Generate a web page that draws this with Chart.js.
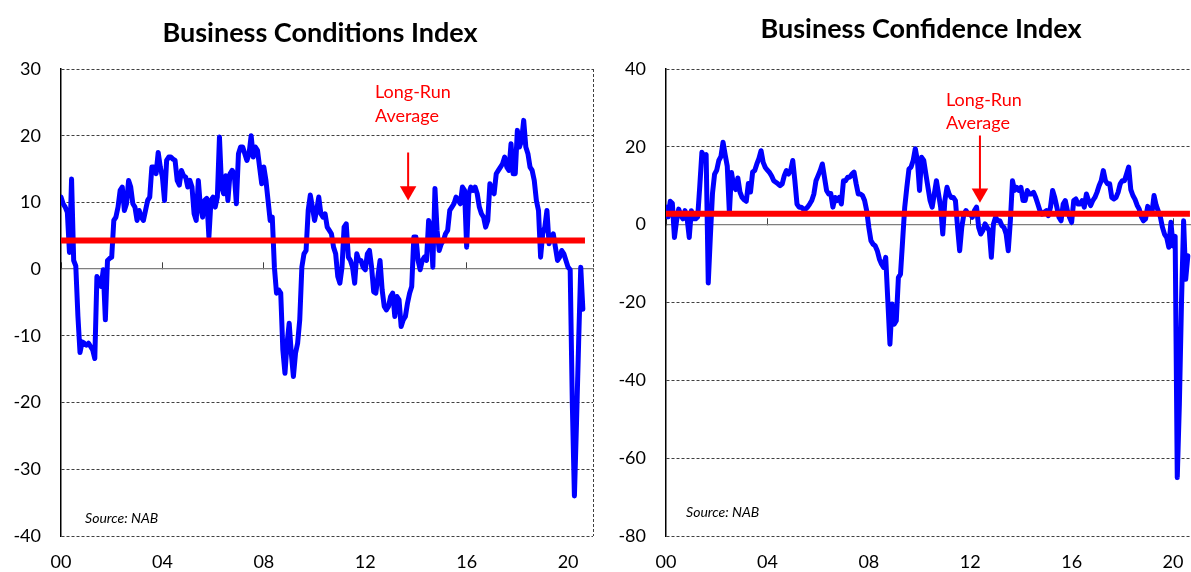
<!DOCTYPE html>
<html>
<head>
<meta charset="utf-8">
<script src="https://cdn.jsdelivr.net/npm/chart.js@4.4.1/dist/chart.umd.min.js"></script>
<style>
  html, body { margin:0; padding:0; background:#ffffff; overflow:hidden; width:1191px; height:572px; }
  canvas { position:absolute; top:0; }
  #cond { left:0; }
  #conf { left:600px; }
</style>
</head>
<body>
<canvas id="cond" width="640" height="572"></canvas>
<canvas id="conf" width="642" height="572"></canvas>
<script>
// ---------- data (monthly, index 0 = Jan 2000) ----------
const xTickMonths = [0, 48, 96, 144, 192, 240];
const xTickLabels = ['00', '04', '08', '12', '16', '20'];
const conditionsTicks = [30, 20, 10, 0, -10, -20, -30, -40];
const confidenceTicks = [40, 20, 0, -20, -40, -60, -80];

const conditionsValues = [
  10.8,9.8,9.3,8.5,2.5,13.5,1.3,0.5,-7,-12.5,
  -10.9,-11.1,-11.4,-11.1,-11.6,-12.1,-13.4,-1.1,-1.6,-2.6,
  -0.1,-7.6,1.3,1.6,1.8,7.3,7.8,9.3,11.8,12.3,
  8.8,9.8,13.3,12.3,9.8,9.3,7.3,8.8,7.8,7.3,
  8.8,10.3,10.8,15.3,15.3,14.3,17.5,15.3,13.8,10.3,
  16.3,16.8,16.8,16.5,16.3,13.3,12.6,14.8,14,13.8,
  12.3,13.3,12.3,8.3,7.3,13.3,9.3,7.8,10.3,10.6,
  4.8,10.3,10.8,9.3,10.8,19.8,12.3,11.3,14,10.3,
  14.3,14.8,14.3,9.8,17.3,18.3,18.3,17.3,16.3,17.3,
  20,16.8,18.3,17.8,15.3,12.8,15.3,13.3,10.3,7.3,
  7.8,0.3,-3.6,-3.1,-3.6,-12.1,-15.6,-11.1,-8.1,-12.6,
  -16.1,-12.6,-11.1,-7.6,0.3,2.3,2.8,8.8,11.1,9.3,
  7.3,8.8,10.8,8.3,7.8,8.3,6.3,5.8,5.3,3.3,
  2.3,-1.1,-2.1,0.3,6.3,6.8,1.8,1.3,0.3,-2.1,
  2.3,1.3,1.3,0.3,-0.1,2.3,2.8,0.3,-3.4,-3.6,
  -1.1,1.3,-3.1,-5.6,-6.1,-5.6,-4.1,-3.6,-7.1,-4.1,
  -4.6,-8.6,-7.6,-7.1,-5.1,-3.6,-2.6,4.8,4.8,1.3,
  -0.1,1.3,1.8,1.3,7.3,6.3,0.3,12.1,5.8,2.8,
  3.8,4.3,5.3,5.8,8.8,9.3,9.8,10.8,10.3,9.8,
  12.3,11.8,3.3,11.3,12.3,11.8,12.3,11.3,9.3,8.3,
  7.8,6.3,7.3,12.8,11.8,11.3,14.3,14.8,15.3,15.8,
  16.8,15.3,14.8,18.8,14.3,14.3,20.8,18.3,19.3,22.3,
  18.3,17.3,15.3,14.8,13.3,10.3,8.8,1.8,5.3,6.3,
  8.8,3.8,4.8,5.3,3.3,1.3,1.8,2.8,2.3,1.3,
  0.3,-0.1,-20,-34,-23,-11,0.3,-6
];

const confidenceValues = [
  4.5,2,6,5.5,-3.3,1,4,2.5,1.5,3.6,
  1.5,-3.3,3.6,1.5,1.5,2,10,18.6,17.5,18,
  -15,-3,8,13,14,16.5,17.5,21.2,18,15,
  3,13.4,10,9,12,8.4,7,6.4,6,10.6,
  8.4,13.5,13.9,15.6,17,19,16,14.7,14,13.4,
  12.5,11.3,10.9,10.5,10,10.5,12.6,13.9,13,13.9,
  16.5,11.3,5.3,4.5,4.5,4,4,4.5,5.3,6.2,
  7.9,11.3,12.6,13.9,15.6,12.2,8.8,7.9,8,4.5,
  7,6.2,7,5.3,11.3,11.3,12.2,12.2,13,13.5,
  10.5,7.9,7.9,7.5,6.2,3.6,-0.7,-4.1,-5,-5.4,
  -6.7,-8.8,-10.1,-11,-8.4,-19.6,-30.7,-20.4,-25.6,-24.7,
  -13.6,-12.7,-4.1,4.5,9.6,14.3,14.8,16.5,19.5,16.5,
  8.8,17.3,16.5,13,9.6,6.2,4.5,7.9,11.3,7.9,
  4.5,-2.4,6.2,9.6,7.9,7,7,6.2,-0.7,-6.7,
  -0.7,2.7,3.6,2.7,2.7,1.9,3.6,4.5,-0.7,-2.4,
  -1.5,0.2,-0.7,-1.5,-8.4,0.2,1.9,1,1,-0.3,
  -0.7,-2.4,-6.7,1,11.3,8.8,9.6,8.8,9.6,6.2,
  6.2,8.8,7.9,7.9,8.3,7,5.3,3.6,2.7,3.2,
  3.6,2.3,4.5,8.8,7,4.5,1.9,1,5.3,6.2,
  3.6,1.9,0.6,6.2,6.6,5.3,5.3,6.2,4.5,7.9,
  6.2,4.9,6.2,7,8.3,10,11.3,13.9,11.3,10.5,
  10.5,7,6.6,7,8.3,10.5,11.3,11.3,13,14.8,
  9,7.5,6.5,5,4,2,1,1.5,4.7,3.5,
  3,7.5,5,3.5,2,-0.7,-2.5,-3.3,-5.8,0.6,
  -5.5,-3,-65,-46,-20,1,-14,-8
];

const conditionsLongRun = 4.3;
const confidenceLongRun = 2.8;
const longRunEndMonth = 248;

// annotation anchors (data coordinates: month index, index value)
const conditionsArrow = { x: 164.3, top: 17.5, head: 11.7 };
const confidenceArrow = { x: 148.6, top: 22.9, head: 8.1 };
const conditionsNotes = [
  { text: 'Long-Run', x: 148.6, y: 25.6, kind: 'red' },
  { text: 'Average', x: 148.6, y: 22.0, kind: 'red' },
  { text: 'Source: NAB', x: 11.4, y: -38.1, kind: 'src' }
];
const confidenceNotes = [
  { text: 'Long-Run', x: 132.5, y: 30.6, kind: 'red' },
  { text: 'Average', x: 132.5, y: 24.5, kind: 'red' },
  { text: 'Source: NAB', x: 9.5, y: -75.1, kind: 'src' }
];

// ---------- rendering ----------
const FONT = 'Lato, "Open Sans", sans-serif';
Chart.defaults.font.family = FONT;
Chart.defaults.color = '#000000';

function monthPoints(values) { return values.map((v, i) => ({ x: i, y: v })); }

function notesPlugin(items) {
  return {
    id: 'notes',
    afterDatasetsDraw(chart) {
      const ctx = chart.ctx, xs = chart.scales.x, ys = chart.scales.y;
      items.forEach(t => {
        ctx.save();
        ctx.font = t.kind === 'red' ? '18px ' + FONT : 'italic 14px ' + FONT;
        ctx.fillStyle = t.kind === 'red' ? '#FF0000' : '#000000';
        ctx.textAlign = 'left';
        ctx.textBaseline = 'alphabetic';
        ctx.fillText(t.text, xs.getPixelForValue(t.x), ys.getPixelForValue(t.y));
        ctx.restore();
      });
    }
  };
}

function buildChart(id, o) {
  const gridColor = '#404040';
  const config = {
    type: 'line',
    data: {
      datasets: [
        { data: monthPoints(o.values), borderColor: '#0000FF', borderWidth: 5, pointRadius: 0,
          tension: 0, borderJoinStyle: 'round', borderCapStyle: 'round', order: 3 },
        { data: [{ x: 0, y: o.longRun }, { x: longRunEndMonth, y: o.longRun }], borderColor: '#FF0000',
          borderWidth: 6, pointRadius: 0, borderCapStyle: 'butt', order: 2 },
        { data: [{ x: o.arrow.x, y: o.arrow.top }, { x: o.arrow.x, y: o.arrow.head }], borderColor: '#FF0000',
          borderWidth: 2, pointRadius: [0, 9.5], pointStyle: 'triangle', rotation: 180,
          pointBackgroundColor: '#FF0000', pointBorderColor: '#FF0000', pointBorderWidth: 0, order: 1 }
      ]
    },
    options: {
      responsive: false,
      animation: false,
      events: [],
      layout: { autoPadding: false, padding: { left: 0, right: 0, top: 0, bottom: 0 } },
      plugins: {
        legend: { display: false },
        tooltip: { enabled: false },
        title: {
          display: true, text: o.title, color: '#000000',
          font: { family: FONT, size: 27, weight: 'bold', lineHeight: 1.2 },
          padding: { top: o.titleTop, bottom: 69 - o.titleTop - 32.4 }
        }
      },
      scales: {
        x: {
          type: 'linear', axis: 'x', min: 0, max: o.xMax, position: { y: 0 },
          afterBuildTicks: s => { s.ticks = xTickMonths.map(v => ({ value: v })); },
          ticks: { display: false },
          grid: { display: true, drawOnChartArea: false, drawTicks: true, tickLength: -7,
                  tickColor: '#404040', tickWidth: 1 },
          border: { display: true, color: '#7f7f7f', width: 1.3 }
        },
        x2: {
          type: 'linear', axis: 'x', min: 0, max: o.xMax, position: 'bottom',
          afterBuildTicks: s => { s.ticks = xTickMonths.concat([o.xMax]).map(v => ({ value: v })); },
          ticks: { font: { family: FONT, size: 18 }, color: '#000000', padding: 15, maxRotation: 0,
                   autoSkip: false, callback: (v, i) => (i < xTickLabels.length ? xTickLabels[i] : '') },
          grid: { display: true, drawTicks: false, drawOnChartArea: true, lineWidth: 1,
                  color: c => (c.tick && c.tick.value === o.xMax ? gridColor : 'rgba(0,0,0,0)') },
          border: { display: false, dash: [3, 2] }
        },
        y: {
          type: 'linear', position: 'left', min: o.yTicks[o.yTicks.length - 1], max: o.yTicks[0],
          afterBuildTicks: s => { s.ticks = o.yTicks.slice().reverse().map(v => ({ value: v })); },
          afterFit: s => { s.width = o.yWidth; },
          ticks: { font: { family: FONT, size: 18 }, color: '#000000', padding: 20, callback: v => String(v) },
          grid: { display: true, drawTicks: false, lineWidth: 1,
                  color: c => (c.tick && c.tick.value === 0 ? 'rgba(0,0,0,0)' : gridColor) },
          border: { display: true, color: '#000000', width: 1.5, dash: [3, 2] }
        },
        // empty right-hand spacer so the full-width title centres like the reference
        yR: {
          type: 'linear', axis: 'y', position: 'right', min: o.yTicks[o.yTicks.length - 1], max: o.yTicks[0],
          afterFit: s => { s.width = o.rightGap; },
          ticks: { display: false },
          grid: { display: false, drawTicks: false },
          border: { display: false }
        }
      }
    },
    plugins: [notesPlugin(o.notes)]
  };
  const chart = new Chart(document.getElementById(id), config);
  // settle the plot area onto the reference frame (top 69, bottom 536)
  for (let k = 0; k < 5; k++) {
    const ca = chart.chartArea;
    const dTop = 69 - ca.top, dBot = 536 - ca.bottom;
    if (Math.abs(dTop) < 0.25 && Math.abs(dBot) < 0.25) break;
    const pad = chart.config.options.layout.padding;
    pad.top += dTop;
    pad.bottom -= dBot;
    chart.update();
  }
  return chart;
}

buildChart('cond', {
  title: 'Business Conditions Index',
  values: conditionsValues, longRun: conditionsLongRun, arrow: conditionsArrow, notes: conditionsNotes,
  yTicks: conditionsTicks, yWidth: 61, rightGap: 47, xMax: 251.8, titleTop: 17
});
buildChart('conf', {
  title: 'Business Confidence Index',
  values: confidenceValues, longRun: confidenceLongRun, arrow: confidenceArrow, notes: confidenceNotes,
  yTicks: confidenceTicks, yWidth: 66, rightGap: 51, xMax: 248.5, titleTop: 13
});
</script>
</body>
</html>
